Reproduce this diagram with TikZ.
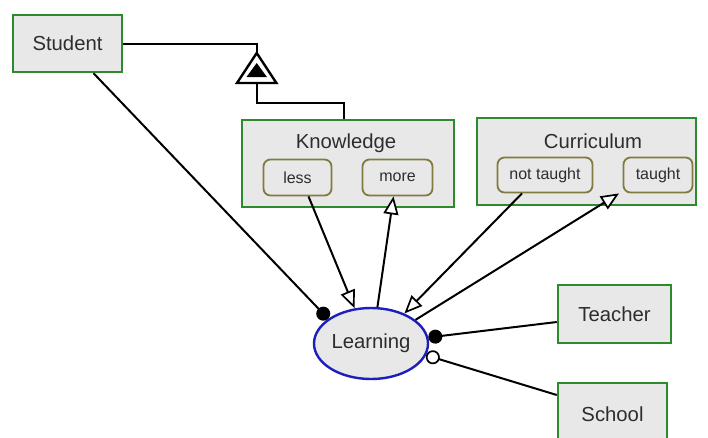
\documentclass[tikz,border=0pt]{standalone}
\usepackage{fontspec}
\setmainfont{Liberation Sans}
\usetikzlibrary{arrows.meta,shapes.geometric}
\definecolor{boxgreen}{RGB}{44,140,44}
\definecolor{boxfill}{RGB}{232,232,232}
\definecolor{partline}{RGB}{128,124,64}
\definecolor{ellblue}{RGB}{30,30,190}
\definecolor{txt}{RGB}{45,45,45}
\newcommand{\bigtxt}{\fontsize{20.3}{24}\selectfont}
\newcommand{\smalltxt}{\fontsize{16}{19}\selectfont}
\tikzset{
  classbox/.style={draw=boxgreen, line width=2.4pt, fill=boxfill, text=txt,
    font=\bigtxt, inner sep=0pt},
  partbox/.style={draw=partline, line width=1.8pt, fill=boxfill, text=txt,
    font=\smalltxt, rounded corners=7pt, inner sep=0pt},
  titletext/.style={text=txt, font=\bigtxt, inner sep=0pt},
  usecase/.style={ellipse, draw=ellblue, line width=2.4pt, fill=boxfill,
    text=txt, font=\bigtxt, inner sep=0pt},
  conn/.style={draw=black, line width=2pt},
  openarrow/.style={conn, -{Triangle[length=18pt,width=15pt,fill=white,line width=1.7pt]}},
  dotend/.style={conn, -{Circle[length=14pt,fill=black]}},
  opendot/.style={conn, -{Circle[length=14pt,fill=white,line width=1.7pt]}},
}
\begin{document}
\begin{tikzpicture}[x=1pt,y=-1pt]
\useasboundingbox (0,0) rectangle (708,437);
\clip (0,0) rectangle (708,437);
\fill[white] (0,0) rectangle (708,437);

% classes
\node[classbox, minimum width=109pt, minimum height=57pt] (stu) at (67.5,43.5) {Student};
\node[classbox, minimum width=212pt, minimum height=87pt] (know) at (348,163.5) {};
\node[titletext] (knowt) at (346,143) {Knowledge};
\node[partbox, minimum width=68pt, minimum height=36pt] (less) at (297.5,177.5) {less};
\node[partbox, minimum width=70pt, minimum height=36pt] (more) at (397.5,177.5) {more};

\node[classbox, minimum width=219pt, minimum height=87pt] (curr) at (586.5,161.5) {};
\node[titletext] (currt) at (593,141) {Curriculum};
\node[partbox, minimum width=95pt, minimum height=35pt] (nott) at (545,175) {not taught};
\node[partbox, minimum width=69pt, minimum height=35pt] (taught) at (658,175) {taught};

\node[classbox, minimum width=113pt, minimum height=58pt] (teach) at (614.5,314) {Teacher};
\node[classbox, minimum width=109pt, minimum height=62pt] (school) at (612.5,414) {School};

\node[usecase, minimum width=114pt, minimum height=71pt] (learn) at (371,343.5) {Learning};

% generalisation: Student -- Knowledge
\coordinate (apex) at (256.7,53);
\coordinate (tbase) at (256.7,83);
\coordinate (elbow) at (256.7,103);
\draw[conn] (stu.east) -| (apex);
\draw[conn] (tbase) -- (elbow) -| ([xshift=-4pt]know.north);
\draw[line width=2.4pt, fill=white, line join=miter] (apex) -- (237,83) -- (276.4,83) -- cycle;
\fill[black] (256.7,63) -- (246.5,77) -- (266.9,77) -- cycle;

% associations
\draw[dotend] ([xshift=26pt]stu.south) -- (learn.150);
\draw[openarrow] ([xshift=11pt]less.south) -- (learn.115);
\draw[openarrow] (learn.80) -- ([xshift=-4pt]more.south);
\draw[openarrow] ([xshift=-23pt]nott.south) -- (learn.42);
\draw[openarrow] (learn.28) -- ([xshift=-39pt]taught.south);
\draw[dotend] ([yshift=-8pt]teach.west) -- (learn.6);
\draw[opendot] ([yshift=19pt]school.west) -- (learn.-12);
\end{tikzpicture}
\end{document}
